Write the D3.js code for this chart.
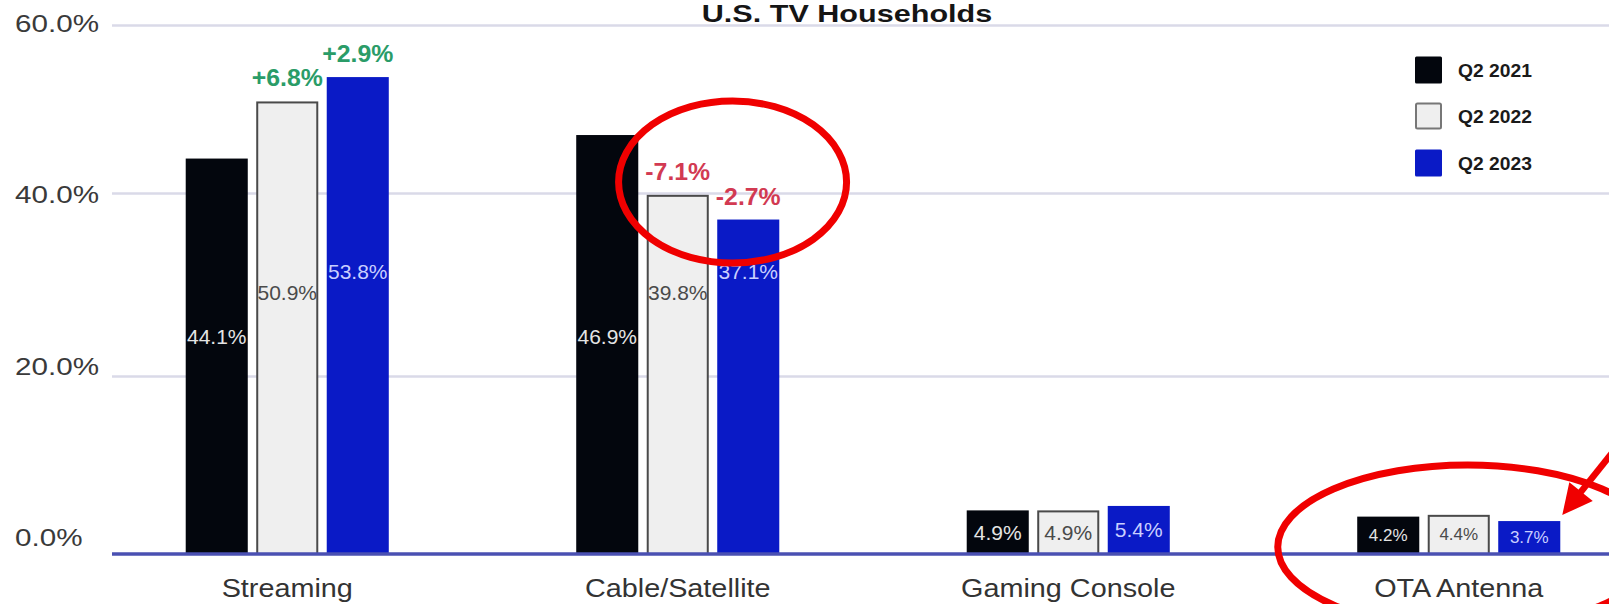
<!DOCTYPE html>
<html>
<head>
<meta charset="utf-8">
<script src="https://cdn.jsdelivr.net/npm/d3@7"></script>
<style>
  html, body { margin: 0; padding: 0; background: #ffffff; overflow: hidden; }
  svg { display: block; }
</style>
</head>
<body>
<svg id="chart" width="1609" height="604"></svg>
<script>
// ---- data ----
const title = "U.S. TV Households";
const categories = ["Streaming", "Cable/Satellite", "Gaming Console", "OTA Antenna"];
const seriesNames = ["Q2 2021", "Q2 2022", "Q2 2023"];
const q2_2021 = [44.1, 46.9, 4.9, 4.2];
const q2_2022 = [50.9, 39.8, 4.9, 4.4];
const q2_2023 = [53.8, 37.1, 5.4, 3.7];
// year-over-year change shown above the 2022 and 2023 bars
const change2022 = [6.8, -7.1, null, null];
const change2023 = [2.9, -2.7, null, null];
const yTicks = [0, 20, 40, 60];

const seriesValues = [q2_2021, q2_2022, q2_2023];
const seriesChanges = [null, change2022, change2023];

// ---- layout ----
const W = 1609, H = 604;
const plotLeft = 112;
const FONT = "'Liberation Sans', Arial, sans-serif";

const svg = d3.select("#chart");

const y = d3.scaleLinear().domain([0, 20, 40, 60]).range([554, 376, 193, 25]);
const yLabel = d3.scaleLinear().domain([0, 60]).range([537.5, 23]);

const x0 = d3.scaleBand().domain(categories).range([92, 1654])
  .paddingInner(0.48).paddingOuter(0.24);
const x1 = d3.scaleBand().domain(seriesNames).range([0, x0.bandwidth()])
  .paddingInner(0.12);

const fills = ["#03060d", "#efefef", "#0a1ac6"];
const strokes = [null, "#4a4a4a", null];
const valueText = ["#e4e4e4", "#4a4a4a", "#c9cfff"];
// vertical anchor for value labels inside tall bars, per series
const tallLabelY = [336, 292, 271];

const fmt1 = d3.format(".1f");
const pct = v => (v < 0 ? "-" : "") + fmt1(Math.abs(v)) + "%";
const signedPct = v => (v > 0 ? "+" : "-") + fmt1(Math.abs(v)) + "%";

// text helper with horizontal stretch
function txt(g, x, yy, s, o) {
  return g.append("text")
    .attr("transform", `translate(${x},${yy}) scale(${o.sx || 1},1)`)
    .attr("text-anchor", o.anchor || "middle")
    .attr("dominant-baseline", o.base || "auto")
    .style("font-family", FONT)
    .style("font-size", o.size + "px")
    .style("font-weight", o.weight || "normal")
    .style("fill", o.fill || "#333")
    .text(s);
}

// ---- gridlines ----
const grid = svg.append("g").attr("transform", `translate(${plotLeft},0)`)
  .call(d3.axisLeft(y).tickValues(yTicks.filter(t => t > 0))
    .tickSize(-(W - plotLeft)).tickFormat(""));
grid.select(".domain").remove();
grid.selectAll(".tick line").attr("stroke", "#dadae8").attr("stroke-width", 2.5);

// ---- y labels ----
const yl = svg.append("g");
yTicks.forEach(t => {
  txt(yl, 15, yLabel(t), pct(t),
    { anchor: "start", base: "central", size: 24.5, sx: 1.21, fill: "#3a3a3a" });
});

// ---- title ----
txt(svg, 847, 22, title, { size: 23, weight: "bold", sx: 1.33, fill: "#151515" });

// ---- bars ----
const bars = svg.append("g");
const labels = svg.append("g");
categories.forEach((cat, i) => {
  const gx = x0(cat);
  seriesNames.forEach((sn, j) => {
    const v = seriesValues[j][i];
    const bx = gx + x1(sn);
    const bw = x1.bandwidth();
    const top = y(v), base = y(0);
    const r = bars.append("rect")
      .attr("fill", fills[j]);
    if (strokes[j]) {
      r.attr("x", bx + 1).attr("y", top + 1)
        .attr("width", bw - 2).attr("height", base - top - 1)
        .attr("stroke", strokes[j]).attr("stroke-width", 2);
    } else {
      r.attr("x", bx).attr("y", top).attr("width", bw).attr("height", base - top);
    }
    // value inside the bar
    const tall = base - top > 120;
    const ly = tall ? tallLabelY[j] : (top + base) / 2;
    const fs = i === 3 ? 17 : 21;
    txt(labels, bx + bw / 2, ly, pct(v),
      { base: "central", size: fs, fill: valueText[j] });
    // change above the bar
    const ch = seriesChanges[j] ? seriesChanges[j][i] : null;
    if (ch !== null && ch !== undefined) {
      txt(labels, bx + bw / 2, top - 15, signedPct(ch),
        { size: 23, weight: "bold", sx: 1.08, fill: ch > 0 ? "#2a9c68" : "#d23a52" });
    }
  });
});

// ---- baseline ----
svg.append("line")
  .attr("x1", plotLeft).attr("x2", W)
  .attr("y1", y(0)).attr("y2", y(0))
  .attr("stroke", "#4a50b2").attr("stroke-width", 3.5);

// ---- category labels ----
const cl = svg.append("g");
categories.forEach(cat => {
  txt(cl, x0(cat) + x0.bandwidth() / 2, 597, cat, { size: 25.5, sx: 1.13, fill: "#333" });
});

// ---- legend ----
const lg = svg.append("g");
const legendY = [70, 116, 163];
seriesNames.forEach((sn, j) => {
  const r = lg.append("rect").attr("fill", fills[j]).attr("rx", 1.5);
  if (strokes[j]) {
    r.attr("x", 1416).attr("y", legendY[j] - 12.5).attr("width", 25).attr("height", 25)
      .attr("stroke", "#777").attr("stroke-width", 2);
  } else {
    r.attr("x", 1415).attr("y", legendY[j] - 13.5).attr("width", 27).attr("height", 27);
  }
  txt(lg, 1458, legendY[j] + 1, sn,
    { anchor: "start", base: "central", size: 18, weight: "bold", sx: 1.07, fill: "#1a1a1a" });
});

// ---- annotations ----
const ann = svg.append("g").attr("fill", "none").attr("stroke", "#f00000").attr("stroke-width", 7);
const cable = "Cable/Satellite";
ann.append("ellipse")
  .attr("cx", x0(cable) + x0.bandwidth() * 0.77)
  .attr("cy", y(40) - 11)
  .attr("rx", 114).attr("ry", 81);
const ota = "OTA Antenna";
ann.append("ellipse")
  .attr("cx", x0(ota) + x0.bandwidth() / 2 + 9)
  .attr("cy", y(0) - 7)
  .attr("rx", 190).attr("ry", 82);

// arrow pointing at the 2023 OTA bar
const tipX = x0(ota) + x1("Q2 2023") + x1.bandwidth() + 2;
const tipY = y(q2_2023[3]) - 6;
const dir = [0.625, -0.781], perp = [0.781, 0.625];
const headLen = 30, headHalf = 15;
ann.append("line")
  .attr("x1", tipX + dir[0] * 20).attr("y1", tipY + dir[1] * 20)
  .attr("x2", tipX + dir[0] * 220).attr("y2", tipY + dir[1] * 220)
  .attr("stroke-width", 6.5);
const bxh = tipX + dir[0] * headLen, byh = tipY + dir[1] * headLen;
svg.append("polygon")
  .attr("points", [
    [tipX, tipY],
    [bxh + perp[0] * headHalf, byh + perp[1] * headHalf],
    [bxh - perp[0] * headHalf, byh - perp[1] * headHalf]
  ].map(p => p.join(",")).join(" "))
  .attr("fill", "#f00000");
</script>
</body>
</html>
